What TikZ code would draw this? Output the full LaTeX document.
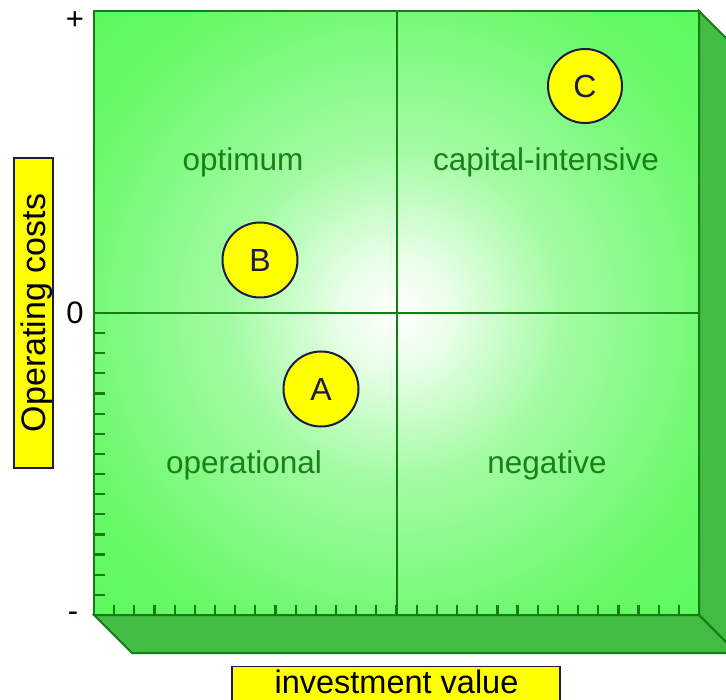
\documentclass[tikz,border=0pt]{standalone}
\usepackage{fontspec}
\setmainfont{Liberation Sans}
\usetikzlibrary{calc}
\definecolor{glowgreen}{RGB}{85,248,85}
\definecolor{sidegreen}{RGB}{66,188,66}
\definecolor{edgegreen}{RGB}{20,125,20}
\definecolor{labelgreen}{RGB}{26,128,26}
\definecolor{navyline}{RGB}{28,28,72}
\definecolor{markyellow}{RGB}{255,255,0}
\pgfdeclareradialshading{quadglow}{\pgfpoint{0bp}{0bp}}{%
  color(0bp)=(white);
  color(5bp)=(white!85!glowgreen);
  color(14bp)=(white!45!glowgreen);
  color(28bp)=(white!12!glowgreen);
  color(40bp)=(glowgreen);
  color(50bp)=(glowgreen)}
\tikzset{
  face/.style={fill=sidegreen, draw=edgegreen, line width=2pt, line join=miter},
  frame/.style={draw=edgegreen, line width=2.4pt},
  midline/.style={draw=edgegreen, line width=2.2pt},
  tick/.style={draw=edgegreen, line width=2.2pt},
  quadlabel/.style={text=labelgreen, font=\fontsize{31.5}{36}\selectfont, anchor=base, inner sep=0pt},
  marker/.style={circle, fill=markyellow, draw=navyline, line width=2pt, minimum size=75pt, inner sep=0pt, text=navyline, font=\fontsize{32}{36}\selectfont},
  axisbox/.style={fill=markyellow, draw=navyline, line width=1.4pt},
  axistext/.style={text=black, inner sep=0pt},
  endmark/.style={text=black, font=\fontsize{31}{34}\selectfont, inner sep=0pt}
}
\begin{document}
\begin{tikzpicture}[x=1pt,y=-1pt]
\useasboundingbox (0,0) rectangle (726,700);
\clip (0,0) rectangle (726,700);
% corners of the front face
\coordinate (tl) at (94,11);
\coordinate (tr) at (699,11);
\coordinate (br) at (699,615);
\coordinate (bl) at (94,615);
% side faces
\path[face] (tr) -- ++(38,38) -- ++(0,604) -- (br) -- cycle;
\path[face] (bl) -- (br) -- ++(38,38) -- ($(bl)+(38,38)$) -- cycle;
% front face
\shade[shading=quadglow] (tl) rectangle (br);
\coordinate (mtop) at (397,11);
\coordinate (mbot) at (397,615);
\coordinate (mleft) at (94,313);
\coordinate (mright) at (699,313);
\draw[midline] (mtop) -- (mbot);
\draw[midline] (mleft) -- (mright);
% ticks
\foreach \k in {1,...,14}{
  \coordinate (lt\k) at (94,{313+\k*20.13});
  \draw[tick] (lt\k) -- ++(11,0);
}
\foreach \k in {1,...,29}{
  \coordinate (bt\k) at ({94+\k*20.17},615);
  \draw[tick] (bt\k) -- ++(0,-10);
}
\draw[frame] (tl) rectangle (br);
% quadrant labels
\node[quadlabel] (optimum) at (243,171) {optimum};
\node[quadlabel] (capint) at (546,171) {capital-intensive};
\node[quadlabel] (operational) at (244,474) {operational};
\node[quadlabel] (negative) at (547,474) {negative};
% markers
\node[marker] (B) at (260,260) {B};
\node[marker] (A) at (321,389) {A};
\node[marker, minimum size=74pt] (C) at (585,86) {C};
% axis end labels
\node[endmark] (plus) at (75,21) {+};
\node[endmark] (zero) at (75,313) {0};
\node[endmark] (minus) at (73,617) {-};
% axis titles
\node[axisbox, minimum width=310pt, minimum height=39pt, inner sep=0pt, rotate=90] (ytitle) at (33.5,313) {};
\node[axistext, font=\fontsize{34}{38}\selectfont, rotate=90, anchor=base] (ytext) at (45.5,313) {Operating costs};
\node[axisbox, minimum width=328pt, minimum height=44pt, inner sep=0pt, anchor=north] (xtitle) at (396,666) {};
\node[axistext, font=\fontsize{32.5}{36}\selectfont, anchor=base] (xtext) at (396.5,693) {investment value};
\end{tikzpicture}
\end{document}
